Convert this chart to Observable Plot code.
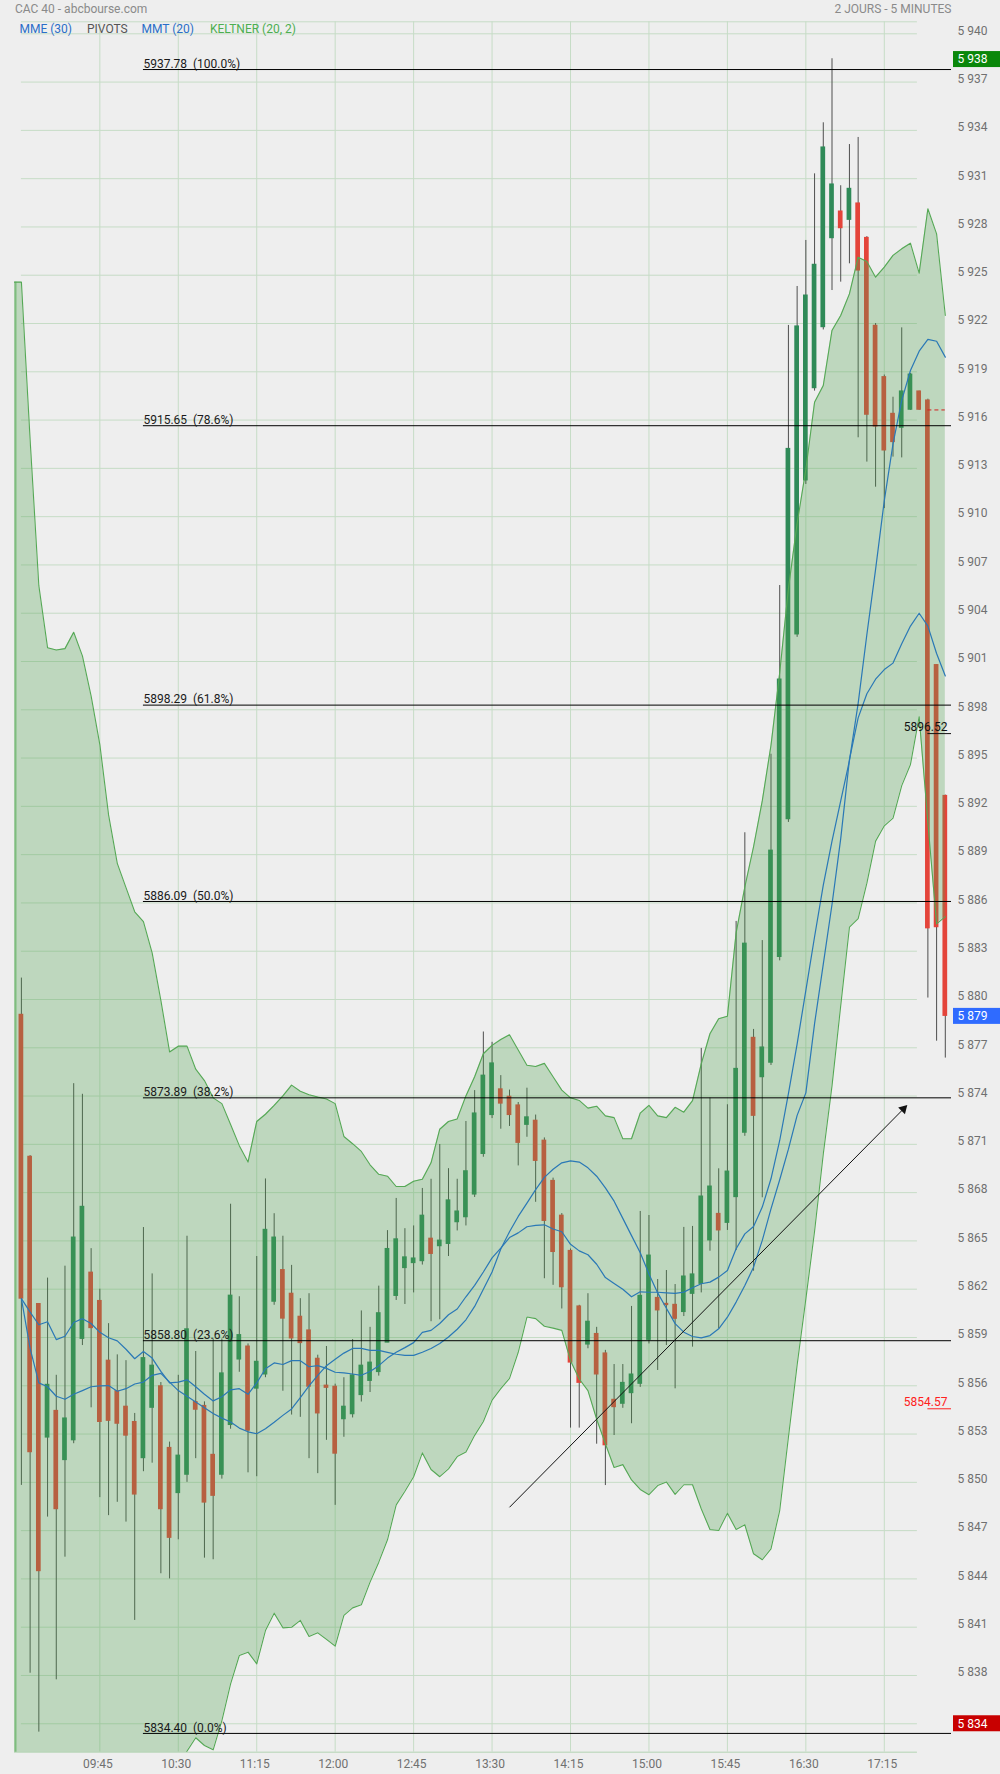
<!DOCTYPE html>
<html><head><meta charset="utf-8">
<script src="https://cdn.jsdelivr.net/npm/d3@7"></script>
<script src="https://cdn.jsdelivr.net/npm/@observablehq/plot@0.6"></script>
<style>
html,body{margin:0;padding:0;background:#eeeeee;}
#wrap{position:relative;width:1000px;height:1774px;font-family:Roboto,"Noto Sans",sans-serif;font-size:12px;}
#wrap svg{position:absolute;left:0;top:0;}
.t{position:absolute;white-space:pre;line-height:14px;z-index:2;}
</style></head><body>
<div id="wrap">
<div class="t" style="left:15px;top:2.3px;color:#8a8a8a">CAC 40 - abcbourse.com</div>
<div class="t" style="right:48.5px;top:2.3px;color:#8a8a8a">2 JOURS - 5 MINUTES</div>
<div class="t" style="left:19.5px;top:21.5px;color:#2a6fc8">MME (30)</div>
<div class="t" style="left:87px;top:21.5px;color:#555555">PIVOTS</div>
<div class="t" style="left:141.5px;top:21.5px;color:#2a6fc8">MMT (20)</div>
<div class="t" style="left:210px;top:21.5px;color:#4caf50">KELTNER (20, 2)</div>
</div>
<script>
// ---- tick labels ----
const xTickIdx = [9, 18, 27, 36, 45, 54, 63, 72, 81, 90, 99];
const xTickLabels = ["09:45","10:30","11:15","12:00","12:45","13:30","14:15","15:00","15:45","16:30","17:15"];
const yTicks = d3.range(5835, 5941, 3);

// ---- candles (5 min) ----
const openVals = [5879.05,5870.23,5861.08,5852.78,5854.44,5851.38,5852.61,5858.91,5863.03,5861.27,5857.56,5855.66,5854.70,5853.75,5851.50,5854.63,5855.97,5852.14,5849.33,5850.47,5854.99,5854.75,5851.71,5850.47,5853.56,5857.63,5858.44,5855.82,5856.70,5861.22,5863.19,5861.72,5860.29,5859.44,5857.68,5856.01,5855.94,5853.92,5854.23,5855.42,5856.30,5856.85,5858.68,5861.58,5863.31,5863.62,5863.74,5865.14,5864.67,5864.81,5866.16,5866.47,5867.88,5870.40,5872.82,5874.42,5873.96,5873.42,5872.21,5872.47,5871.23,5868.73,5866.57,5864.38,5860.93,5858.56,5859.22,5858.01,5855.13,5854.88,5855.54,5856.12,5858.85,5861.46,5861.09,5861.03,5860.58,5861.71,5862.33,5865.03,5866.68,5866.12,5867.72,5871.72,5877.62,5875.17,5876.07,5882.64,5891.20,5902.68,5912.25,5917.98,5921.77,5927.30,5928.96,5928.44,5929.46,5927.32,5921.86,5918.67,5916.39,5915.52,5916.64,5917.78,5917.22,5900.78,5892.65];
const highVals = [5881.33,5870.30,5861.10,5862.69,5856.65,5863.43,5874.77,5874.11,5864.52,5862.00,5859.86,5857.92,5857.56,5854.28,5865.83,5862.95,5856.20,5852.50,5856.65,5865.29,5858.13,5855.00,5858.91,5858.91,5867.28,5861.53,5858.60,5864.03,5868.85,5866.69,5865.29,5863.48,5861.41,5861.72,5857.90,5858.44,5856.10,5856.50,5858.87,5860.65,5859.63,5862.19,5865.64,5867.64,5865.76,5865.93,5868.26,5868.83,5870.99,5869.49,5868.83,5872.42,5874.34,5877.98,5877.34,5875.27,5874.37,5873.60,5874.49,5872.82,5871.40,5868.90,5866.70,5864.50,5861.00,5861.72,5859.63,5858.20,5857.32,5857.32,5860.93,5866.83,5866.58,5862.60,5863.16,5862.29,5865.84,5865.90,5876.96,5873.87,5869.48,5873.46,5884.85,5890.36,5878.14,5883.66,5895.24,5905.72,5921.88,5924.30,5927.16,5931.30,5934.47,5938.45,5930.56,5933.12,5933.56,5927.40,5922.00,5918.80,5917.42,5921.73,5918.90,5917.80,5917.30,5900.80,5892.70];
const lowVals = [5849.81,5838.14,5834.48,5847.84,5837.73,5845.35,5852.40,5858.50,5854.63,5849.05,5847.93,5848.76,5847.53,5841.42,5850.66,5851.19,5844.32,5844.00,5846.43,5850.00,5851.47,5845.29,5845.19,5850.20,5853.30,5856.84,5850.59,5850.35,5856.50,5861.00,5855.66,5854.18,5854.04,5851.47,5850.54,5852.61,5848.57,5852.80,5854.00,5854.99,5855.58,5856.60,5858.68,5861.30,5861.05,5861.77,5863.50,5859.98,5860.10,5864.03,5865.62,5865.93,5867.70,5870.20,5872.60,5871.94,5872.11,5869.66,5871.44,5867.40,5862.65,5862.24,5860.77,5853.37,5853.37,5858.30,5852.37,5849.80,5852.91,5854.60,5853.64,5855.90,5858.60,5856.95,5858.50,5855.81,5860.30,5858.40,5861.77,5864.36,5859.54,5865.65,5864.40,5871.50,5863.12,5867.68,5875.90,5882.40,5891.00,5902.50,5912.00,5917.80,5921.60,5924.05,5924.57,5925.71,5914.90,5913.39,5911.83,5910.50,5913.70,5913.65,5916.60,5916.60,5880.09,5877.41,5876.36];
const closeVals = [5861.41,5851.87,5844.48,5856.06,5848.33,5853.97,5865.21,5867.12,5859.58,5853.75,5853.82,5853.64,5852.90,5849.24,5857.72,5857.25,5848.33,5846.55,5851.66,5859.51,5854.51,5848.74,5849.16,5856.77,5861.60,5859.15,5853.21,5857.49,5865.69,5865.21,5860.17,5858.94,5858.65,5855.94,5854.28,5855.87,5851.78,5854.70,5856.65,5857.25,5857.44,5860.51,5864.50,5865.10,5863.98,5863.91,5866.57,5864.19,5865.02,5867.52,5866.83,5869.33,5872.92,5875.27,5876.03,5873.53,5872.82,5871.09,5872.68,5869.97,5866.24,5864.31,5862.12,5857.44,5856.18,5859.98,5856.70,5852.30,5854.67,5856.18,5856.70,5861.59,5864.09,5860.68,5861.01,5860.16,5862.79,5862.92,5867.76,5868.38,5865.65,5869.31,5875.69,5883.47,5872.77,5877.02,5889.25,5899.88,5914.21,5921.82,5923.74,5925.65,5932.94,5930.64,5927.92,5930.37,5925.29,5916.33,5915.60,5914.11,5914.63,5917.78,5918.83,5916.64,5884.42,5884.49,5878.98];

// ---- Keltner (20, 2) ----
const keltnerUpper = [5924.57,5914.78,5905.71,5901.86,5901.71,5901.80,5902.82,5901.35,5898.85,5895.84,5891.47,5888.46,5886.95,5885.45,5884.84,5882.90,5879.95,5876.74,5877.10,5877.10,5875.67,5874.96,5873.89,5873.53,5872.23,5870.92,5869.90,5872.42,5872.87,5873.42,5874.01,5874.68,5874.30,5874.08,5873.94,5873.82,5873.53,5871.49,5871.04,5870.56,5869.73,5869.14,5869.02,5868.38,5868.38,5868.71,5868.83,5869.85,5871.94,5872.42,5872.58,5874.01,5875.20,5876.63,5877.15,5877.51,5877.81,5876.86,5875.91,5875.84,5876.03,5875.20,5874.37,5873.89,5873.73,5873.25,5873.37,5872.77,5872.66,5871.35,5871.35,5872.94,5873.42,5872.77,5872.66,5873.30,5873.00,5873.72,5876.00,5877.87,5878.80,5878.96,5884.14,5886.99,5889.49,5892.34,5895.79,5900.30,5905.53,5909.58,5912.93,5917.11,5918.15,5921.57,5922.50,5923.84,5926.12,5925.85,5924.88,5925.50,5926.23,5926.64,5926.99,5925.13,5929.13,5927.57,5922.50];
const keltnerLower = [5798,5805,5811,5813,5814,5814,5814,5815,5817,5818,5820,5822,5823,5824,5825,5827,5828.5,5830.5,5832.5,5833.3,5834.13,5833.65,5833.38,5835.20,5837.48,5839.24,5839.45,5838.72,5840.79,5841.87,5840.96,5841.00,5841.42,5840.42,5840.65,5840.24,5839.82,5841.73,5842.20,5842.39,5843.80,5845.04,5846.43,5848.60,5849.45,5850.35,5851.83,5850.80,5850.35,5850.84,5851.60,5851.88,5852.92,5853.78,5855.11,5855.82,5856.46,5858.08,5860.27,5860.17,5859.70,5859.58,5859.44,5857.56,5856.42,5855.70,5853.92,5852.40,5850.92,5851.10,5850.15,5849.56,5849.23,5849.80,5850.02,5849.25,5849.85,5849.85,5848.35,5847.07,5847.01,5848.08,5847.07,5847.36,5845.56,5845.19,5845.87,5848.25,5852.80,5857.30,5861.40,5865.60,5870.40,5874.63,5879.62,5884.49,5885.02,5887.23,5889.84,5890.79,5891.27,5893.29,5894.60,5897.57,5891.00,5884.70,5885.15];

// ---- moving averages ----
const mme30 = [5861.41,5860.58,5859.79,5859.98,5858.87,5859.08,5859.93,5860.17,5859.87,5859.32,5858.98,5858.79,5858.27,5857.68,5858.13,5857.72,5856.89,5856.18,5856.23,5856.37,5855.94,5855.47,5855.06,5855.32,5855.75,5855.82,5855.47,5856.18,5857.06,5857.42,5857.32,5857.56,5857.56,5857.18,5857.25,5857.08,5856.84,5856.80,5856.73,5856.65,5856.89,5857.25,5857.72,5858.08,5858.37,5858.68,5859.32,5859.44,5859.87,5860.41,5860.77,5861.53,5862.24,5863.07,5863.95,5864.55,5865.21,5865.50,5865.88,5865.97,5866.00,5865.74,5865.57,5864.79,5864.38,5864.14,5863.55,5862.72,5862.36,5862.00,5861.53,5861.84,5861.81,5861.81,5861.77,5861.74,5861.82,5862.09,5862.34,5862.44,5862.75,5863.16,5864.51,5865.44,5865.90,5867.10,5868.86,5871.24,5874.15,5877.24,5880.57,5883.90,5887.11,5889.84,5892.34,5894.84,5898.40,5902.68,5906.72,5911.00,5914.52,5917.22,5919.08,5920.28,5921.01,5920.90,5919.91];
const mmt20 = [5861.41,5858.32,5856.18,5855.94,5855.35,5855.16,5855.47,5855.70,5855.94,5855.99,5856.01,5855.66,5855.82,5856.11,5856.23,5856.65,5856.77,5856.23,5855.70,5855.35,5854.99,5854.63,5854.28,5853.99,5853.75,5853.37,5853.14,5853.02,5853.33,5853.73,5854.16,5854.56,5855.27,5855.99,5856.65,5857.25,5857.65,5858.03,5858.32,5858.32,5858.20,5858.20,5858.08,5857.96,5857.89,5857.89,5858.08,5858.32,5858.63,5859.03,5859.51,5860.10,5860.93,5862.00,5863.07,5864.50,5865.57,5866.52,5867.35,5868.19,5868.95,5869.45,5869.85,5869.97,5869.90,5869.54,5869.02,5868.30,5867.47,5866.40,5865.33,5864.26,5862.95,5861.77,5860.82,5859.86,5859.33,5859.06,5858.98,5859.12,5859.54,5860.26,5861.20,5862.23,5863.37,5865.03,5866.99,5868.80,5870.70,5872.80,5874.20,5878.50,5882.20,5885.90,5890.00,5894.90,5897.50,5899.00,5899.90,5900.50,5900.90,5902.10,5903.20,5904.00,5903.20,5901.50,5900.10];

// ---- Fibonacci retracements ----
const fibLevels = [5937.78, 5915.65, 5898.29, 5886.09, 5873.89, 5858.80, 5834.40];
const fibPercents = ["100.0%", "78.6%", "61.8%", "50.0%", "38.2%", "23.6%", "0.0%"];
const fibStartIdx = 14;

// ---- pivots / markers ----
const pivotLevels = [5896.52, 5854.57];
const pivotColors = ["#111111", "#ff2020"];
const pivotStartIdx = 104;
const refLevel = 5916.63;           // short dashed red line
const refRange = [104, 106];

// ---- trend arrow (candle index, price) ----
const arrowFrom = [56, 5848.45];
const arrowTo = [101.2, 5873.2];

// ---- price badges ----
const badgeValues = [5938.4, 5878.95, 5835.0];
const badgeLabels = ["5 938", "5 879", "5 834"];
const badgeColors = ["#0a870a", "#2f6bff", "#c80000"];

// ---------------------------------------------------------
const xMin = -0.792, xMax = 106.71, gridRight = 102.8;
const yMin = 5833.233, yMax = 5940.746;
const GRID = "#c6dcc6";
const RED = "#e4443a", GREEN = "#2f8a58";
const fmt = d => `${Math.floor(d / 1000)} ${String(d % 1000).padStart(3, "0")}`;

const candles = openVals.map((o, i) => ({i, o, h: highVals[i], l: lowVals[i], c: closeVals[i]}));
const band = [{x: xMin, up: keltnerUpper[0], lo: keltnerLower[0]}]
  .concat(keltnerUpper.map((u, i) => ({x: i, up: u, lo: keltnerLower[i]})));
const fib = fibLevels.map((v, k) => ({v, p: fibPercents[k]}));
const pivots = pivotLevels.map((v, k) => ({v, color: pivotColors[k]}));
const badges = badgeValues.map((v, k) => ({v, label: badgeLabels[k], color: badgeColors[k]}));
const arrowSeg = [{x1: arrowFrom[0], y1: arrowFrom[1], x2: arrowTo[0], y2: arrowTo[1]}];

function buildMarks(headAngle) {
  const m = [
    Plot.ruleX(xTickIdx, {x: d => d, y1: yMin, y2: yMax, stroke: GRID}),
    Plot.ruleY(yTicks, {y: d => d, x1: 0, x2: gridRight, stroke: GRID}),
    Plot.ruleY([yMax], {y: d => d, x1: 0, x2: gridRight, stroke: GRID}),
    Plot.ruleY([yMin], {y: d => d, x1: xMin, x2: gridRight, stroke: GRID, strokeWidth: 1.5}),
    Plot.ruleX(candles, {x: "i", y1: "l", y2: "h", stroke: "#4e4e4e", strokeWidth: 1, clip: true}),
    Plot.rect(candles, {x1: d => d.i - 0.27, x2: d => d.i + 0.27, y1: "o", y2: "c",
      fill: d => d.c >= d.o ? GREEN : RED, insetTop: -0.5, insetBottom: -0.5, clip: true}),
    Plot.areaY(band, {x: "x", y1: "lo", y2: "up", fill: "#51a151", fillOpacity: 0.3, clip: true}),
    Plot.ruleX([xMin], {x: d => d, y1: yMin, y2: keltnerUpper[0], stroke: "#7fbd7f", strokeWidth: 2, dx: 1}),
    Plot.lineY(band, {x: "x", y: "up", stroke: "#55a855", strokeWidth: 1.1, clip: true}),
    Plot.lineY(band, {x: "x", y: "lo", stroke: "#55a855", strokeWidth: 1.1, clip: true}),
    Plot.lineY(mme30, {x: (d, i) => i, y: d => d, stroke: "#2a78b6", strokeWidth: 1.2}),
    Plot.lineY(mmt20, {x: (d, i) => i, y: d => d, stroke: "#2a78b6", strokeWidth: 1.2}),
    Plot.ruleY(fib, {y: "v", x1: fibStartIdx, x2: xMax, stroke: "#000", strokeWidth: 1}),
    Plot.text(fib, {x: fibStartIdx, y: "v", text: d => `${d.v.toFixed(2)}  (${d.p})`,
      textAnchor: "start", dy: -5.5, fill: "#1a1a1a", fontSize: 12}),
    Plot.link(arrowSeg, {x1: "x1", y1: "y1", x2: "x2", y2: "y2", stroke: "#111", strokeWidth: 1}),
    Plot.ruleY(pivots, {y: "v", x1: pivotStartIdx, x2: xMax, stroke: "color", strokeWidth: 1}),
    Plot.text(pivots, {x: xMax, y: "v", text: d => d.v.toFixed(2), textAnchor: "end",
      dx: -4, dy: -6.5, fill: "color", fontSize: 12}),
    Plot.ruleY([refLevel], {y: d => d, x1: refRange[0], x2: refRange[1], stroke: "#d42020", strokeDasharray: "4,3"}),
    Plot.axisY(yTicks, {anchor: "right", tickSize: 0, tickPadding: 6, tickFormat: fmt,
      fill: "#707070", dy: -3, label: null, fontSize: 12}),
    Plot.axisX(xTickIdx, {anchor: "bottom", tickSize: 0, tickPadding: 7,
      tickFormat: d => xTickLabels[xTickIdx.indexOf(d)], fill: "#707070", dx: -2, label: null, fontSize: 12}),
    Plot.rect(badges, {x1: xMax + 0.23, x2: xMax + 6, y1: "v", y2: "v", insetTop: -8, insetBottom: -8, fill: "color"}),
    Plot.text(badges, {x: xMax, y: "v", dx: 6, text: "label", fill: "white", textAnchor: "start", fontSize: 12})
  ];
  if (headAngle != null) {
    m.push(Plot.dot([arrowTo], {x: d => d[0], y: d => d[1], symbol: "triangle2", r: 4.5,
      fill: "#111", rotate: headAngle}));
  }
  return m;
}

function make(headAngle) {
  return Plot.plot({
    width: 1000, height: 1774,
    marginTop: 21.3, marginBottom: 22.3, marginLeft: 14, marginRight: 49,
    x: {domain: [xMin, xMax], axis: null},
    y: {domain: [yMin, yMax], axis: null},
    color: {type: "identity"},
    style: {background: "#eeeeee", fontFamily: "Roboto, 'Noto Sans', sans-serif", fontSize: "12px"},
    marks: buildMarks(headAngle)
  });
}

const probe = make(null);
const sx = probe.scale("x"), sy = probe.scale("y");
const ax = sx.apply(arrowTo[0]) - sx.apply(arrowFrom[0]);
const ay = sy.apply(arrowTo[1]) - sy.apply(arrowFrom[1]);
const angle = Math.atan2(ax, -ay) * 180 / Math.PI;
const chart = make(angle);
document.getElementById("wrap").prepend(chart);
</script>
</body></html>
